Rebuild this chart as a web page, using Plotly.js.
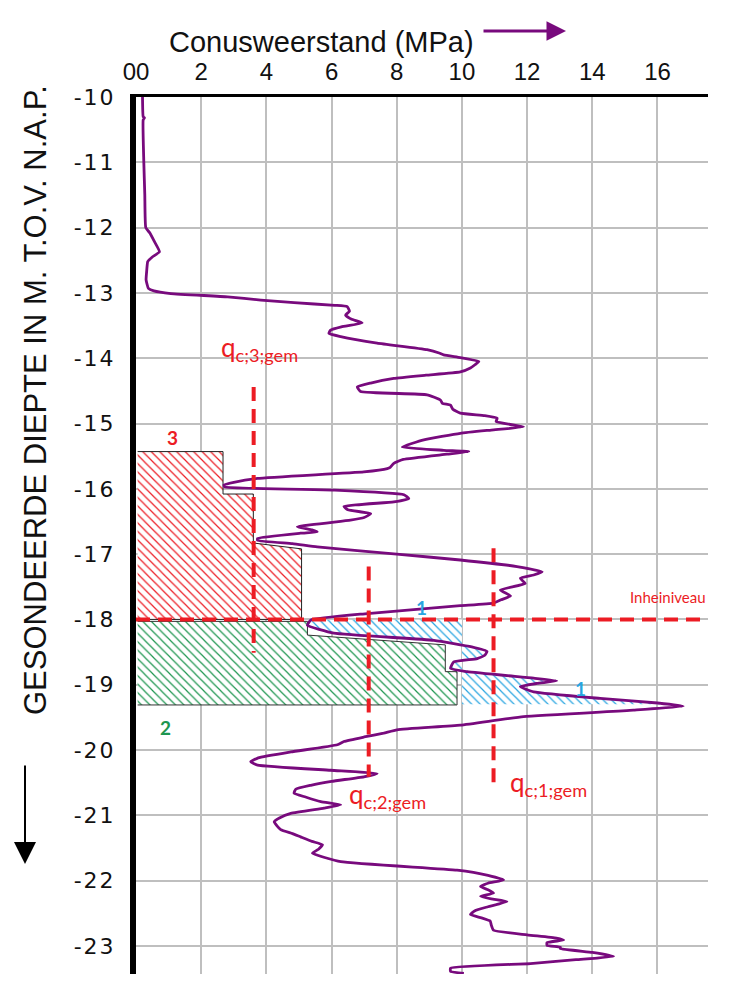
<!DOCTYPE html>
<html>
<head>
<meta charset="utf-8">
<script src="https://cdn.plot.ly/plotly-3.0.1.min.js"></script>
<style>
  html, body { margin: 0; padding: 0; background: #fff; }
  #chart { width: 746px; height: 998px; }
  .ytick text { letter-spacing: 2px; }
</style>
</head>
<body>
<div id="chart"></div>
<script>
// ---- Cone penetration test (depth m t.o.v. NAP, cone resistance MPa) ----
const depth = [-10.00,-10.30,-10.32,-10.35,-11.00,-11.50,-12.00,-12.08,-12.20,-12.37,-12.45,-12.52,-12.65,-12.80,-12.93,-12.97,
  -13.01,-13.06,-13.11,-13.15,-13.19,-13.21,-13.28,-13.34,-13.40,-13.46,-13.52,-13.57,-13.62,-13.67,-13.77,-13.87,-13.92,-13.95,-13.99,
  -14.05,-14.10,-14.15,-14.21,-14.26,-14.31,-14.38,-14.44,-14.51,-14.56,-14.64,-14.69,-14.72,-14.78,-14.84,-14.88,-14.92,-14.97,
  -15.05,-15.10,-15.15,-15.25,-15.36,-15.41,-15.43,-15.47,-15.55,-15.61,-15.67,-15.69,-15.74,-15.84,-15.90,-15.94,-15.97,
  -16.02,-16.09,-16.15,-16.20,-16.27,-16.32,-16.38,-16.44,-16.48,-16.58,-16.63,-16.66,-16.68,-16.76,-16.79,-16.84,-16.89,
  -17.00,-17.09,-17.19,-17.27,-17.32,-17.37,-17.45,-17.55,-17.64,-17.70,-17.75,-17.79,-17.91,
  -18.01,-18.09,-18.21,-18.32,-18.42,-18.49,-18.55,-18.60,-18.65,-18.75,-18.80,-18.90,-18.94,-18.98,
  -19.03,-19.11,-19.21,-19.28,-19.33,-19.39,-19.49,-19.62,-19.69,-19.74,-19.80,-19.87,-19.92,
  -20.03,-20.12,-20.18,-20.23,-20.31,-20.36,-20.41,-20.48,-20.54,-20.60,-20.66,-20.72,-20.79,-20.84,-20.89,-20.97,
  -21.04,-21.10,-21.22,-21.28,-21.33,-21.40,-21.45,-21.52,-21.58,-21.71,-21.84,-21.92,-21.99,
  -22.04,-22.09,-22.14,-22.19,-22.24,-22.28,-22.32,-22.40,-22.46,-22.52,-22.57,-22.62,-22.68,-22.76,-22.83,-22.88,-22.91,-22.95,-22.99,
  -23.02,-23.04,-23.10,-23.16,-23.21,-23.27,-23.34,-23.39,-23.42];
const qc = [0.20,0.22,0.26,0.22,0.24,0.27,0.30,0.42,0.55,0.72,0.50,0.36,0.33,0.31,0.38,0.55,
  1.07,2.81,3.83,4.85,6.10,6.48,6.55,6.43,6.60,6.94,6.30,5.97,5.92,6.28,7.40,8.93,9.30,9.44,9.95,
  10.52,10.40,10.26,9.95,8.90,7.91,7.20,6.79,6.89,8.93,9.34,9.40,9.65,9.72,9.95,10.70,11.08,11.05,
  11.89,10.90,9.95,8.83,8.17,9.44,10.21,9.54,8.20,7.91,7.80,7.71,6.99,3.73,3.00,2.70,2.72,
  6.07,8.22,8.37,7.91,6.38,6.50,7.20,7.00,6.58,4.95,5.40,5.56,5.05,3.73,3.73,4.80,5.56,
  8.00,9.95,11.69,12.46,12.20,11.79,11.94,11.18,11.49,11.20,10.97,9.95,7.10,
  5.36,5.26,6.07,9.14,10.30,10.77,10.70,10.47,9.75,9.65,10.16,12.20,12.91,12.30,
  11.79,12.20,14.24,16.00,16.79,15.26,11.89,9.95,8.01,7.60,7.00,6.38,6.18,
  4.75,3.75,3.52,3.73,5.97,7.40,6.99,6.00,5.36,4.90,4.85,5.20,5.67,6.28,5.77,4.75,
  4.40,4.24,4.44,4.80,5.05,5.40,5.72,5.60,5.41,6.28,9.85,10.80,11.28,
  10.80,10.57,10.80,10.97,10.57,10.90,11.38,10.80,10.40,10.26,10.60,10.87,10.90,10.97,12.00,12.90,13.12,12.61,12.61,
  13.02,13.02,14.00,14.65,13.50,12.10,9.65,9.65,10.06];

// ---- Koppejan zones ----
const zone3Q = [0.05, 2.67, 2.67, 3.60, 3.60, 5.08, 5.08, 0.05];
const zone3D = [-15.43, -15.43, -16.08, -16.08, -16.83, -16.92, -18.00, -18.00];
const zone2Q = [0.05, 5.26, 5.26, 9.49, 9.49, 9.85, 9.85, 0.05];
const zone2D = [-18.03, -18.03, -18.24, -18.39, -18.80, -18.80, -19.31, -19.31];
const zone1Ref = 10;          // MPa reference line for zone 1
const zone1Top = -18.0;
const zone1Bottom = -19.30;
const pileTipLevel = -18.0;   // Inheiniveau

// ---- average cone resistances ----
const gemLabels = ['q<sub>c;1;gem</sub>', 'q<sub>c;2;gem</sub>', 'q<sub>c;3;gem</sub>'];
const gemValues = [10.97, 7.14, 3.61];
const gemTop = [-16.91, -17.19, -14.44];
const gemBottom = [-20.59, -20.41, -18.51];

// ---- axis ticks ----
const xTickVals = [0, 2, 4, 6, 8, 10, 12, 14, 16];
const xTickText = ['00', '2', '4', '6', '8', '10', '12', '14', '16'];
const yTickVals = [-10,-11,-12,-13,-14,-15,-16,-17,-18,-19,-20,-21,-22,-23];
const yTickText = ['-10','-11','-12','-13','-14','-15','-16','-17','-18','-19','-20','-21','-22','-23'];
const blackGridX = [10];
const blackGridY = [-11, -16, -21];

// interpolate qc at a given depth
function qcAt(d) {
  for (let i = 0; i < depth.length - 1; i++) {
    if (depth[i] >= d && depth[i + 1] <= d) {
      const t = (d - depth[i]) / (depth[i + 1] - depth[i]);
      return qc[i] + t * (qc[i + 1] - qc[i]);
    }
  }
  return qc[qc.length - 1];
}
// zone 1 polygon: between curve and reference line
const z1Q = [zone1Ref, qcAt(zone1Top)], z1D = [zone1Top, zone1Top];
for (let i = 0; i < depth.length; i++) {
  if (depth[i] < zone1Top && depth[i] > zone1Bottom) { z1Q.push(qc[i]); z1D.push(depth[i]); }
}
z1Q.push(qcAt(zone1Bottom), zone1Ref, zone1Ref);
z1D.push(zone1Bottom, zone1Bottom, zone1Top);

const RED = 'rgb(236,28,36)';
const GREEN = 'rgb(30,150,80)';
const BLUE = 'rgb(40,165,225)';
const PURPLE = 'rgb(120,10,125)';

const traces = [
  { x: zone3Q, y: zone3D, mode: 'lines', fill: 'toself', fillcolor: 'rgba(0,0,0,0)',
    fillpattern: { shape: '\\', fgcolor: RED, bgcolor: 'white', size: 6, solidity: 0.2 },
    line: { color: '#222', width: 1 }, hoverinfo: 'skip' },
  { x: zone2Q, y: zone2D, mode: 'lines', fill: 'toself', fillcolor: 'rgba(0,0,0,0)',
    fillpattern: { shape: '\\', fgcolor: GREEN, bgcolor: 'white', size: 6, solidity: 0.2 },
    line: { color: '#333', width: 1 }, hoverinfo: 'skip' },
  { x: z1Q, y: z1D, mode: 'lines', fill: 'toself', fillcolor: 'rgba(0,0,0,0)',
    fillpattern: { shape: '\\', fgcolor: BLUE, bgcolor: 'white', size: 6, solidity: 0.2 },
    line: { width: 0, color: 'rgba(0,0,0,0)' }, hoverinfo: 'skip' },
  { x: qc, y: depth, mode: 'lines', line: { color: PURPLE, width: 2.8, shape: 'spline', smoothing: 0.4 } },
  { x: [0, 17.55], y: [pileTipLevel, pileTipLevel], mode: 'lines', cliponaxis: false,
    line: { color: RED, width: 4, dash: '14px,8px' } }
];
for (let i = 0; i < gemValues.length; i++) {
  traces.push({ x: [gemValues[i], gemValues[i]], y: [gemTop[i], gemBottom[i]], mode: 'lines',
    line: { color: RED, width: 4, dash: '14px,8px' } });
}

// pixel helpers for annotation placement
const L = 136, R = 708, T = 97, B = 974;
const px = v => (v - L) / (R - L);
const py = v => (B - v) / (B - T);

const shapes = [];
blackGridX.forEach(v => shapes.push({ type: 'line', xref: 'x', yref: 'paper', x0: v, x1: v, y0: 0, y1: 1,
  line: { color: '#000', width: 1.5 }, layer: 'below' }));
blackGridY.forEach(v => shapes.push({ type: 'line', xref: 'paper', yref: 'y', x0: 0, x1: 1, y0: v, y1: v,
  line: { color: '#000', width: 1.5 }, layer: 'below' }));

const calib = 'Lato, Carlito, Calibri, sans-serif';
function label(xp, yp, text, font, extra) {
  return Object.assign({ xref: 'paper', yref: 'paper', x: px(xp), y: py(yp), text: text, showarrow: false,
    xanchor: 'center', yanchor: 'middle', font: font }, extra || {});
}
const annotations = [
  label(321, 42, 'Conusweerstand (MPa)', { family: 'Liberation Sans, Arial, sans-serif', size: 29, color: '#111' }),
  { xref: 'paper', yref: 'paper', x: px(566), y: py(31), ax: -84, ay: 0, text: '', showarrow: true,
    arrowhead: 2, arrowsize: 1.3, arrowwidth: 3, arrowcolor: PURPLE },
  label(35, 400, 'GESONDEERDE DIEPTE IN M. T.O.V. N.A.P.', { family: 'Liberation Sans, Arial, sans-serif', size: 31, color: '#111' }, { textangle: -90 }),
  { xref: 'paper', yref: 'paper', x: px(25), y: py(864), ax: 0, ay: -100, text: '', showarrow: true,
    arrowhead: 2, arrowsize: 2.2, arrowwidth: 2, arrowcolor: '#000' },
  label(219, 348, gemLabels[2], { family: calib, size: 26, color: RED }, { xanchor: 'left' }),
  label(347, 795, gemLabels[1], { family: calib, size: 26, color: RED }, { xanchor: 'left' }),
  label(508, 783, gemLabels[0], { family: calib, size: 26, color: RED }, { xanchor: 'left' }),
  label(668, 597, 'Inheiniveau', { family: calib, size: 15, color: RED }),
  label(172, 438, '<b>3</b>', { family: calib, size: 19, color: RED }),
  label(165, 727, '<b>2</b>', { family: calib, size: 19, color: GREEN }),
  label(421, 607, '<b>1</b>', { family: calib, size: 19, color: BLUE }),
  label(580, 688, '<b>1</b>', { family: calib, size: 19, color: BLUE })
];

const layout = {
  width: 746, height: 998,
  margin: { l: L, r: 746 - R, t: T, b: 998 - B },
  paper_bgcolor: '#fff', plot_bgcolor: '#fff',
  showlegend: false,
  xaxis: { side: 'top', range: [0, 17.55], tickvals: xTickVals, ticktext: xTickText,
    showgrid: true, gridcolor: '#bfbfbf', gridwidth: 2, zeroline: false,
    showline: true, linecolor: '#000', linewidth: 3, ticks: '', ticklabelstandoff: 4,
    tickfont: { family: 'Liberation Sans, Arial, sans-serif', size: 24, color: '#111' }, fixedrange: true },
  yaxis: { range: [-23.43, -10], tickvals: yTickVals, ticktext: yTickText,
    showgrid: true, gridcolor: '#bfbfbf', gridwidth: 2, zeroline: false,
    showline: true, linecolor: '#000', linewidth: 6, ticks: '', ticklabelstandoff: 10,
    tickfont: { family: 'DejaVu Sans, sans-serif', size: 22, color: '#111' }, fixedrange: true },
  shapes: shapes,
  annotations: annotations
};

Plotly.newPlot('chart', traces, layout, { staticPlot: true, displayModeBar: false });
</script>
</body>
</html>
